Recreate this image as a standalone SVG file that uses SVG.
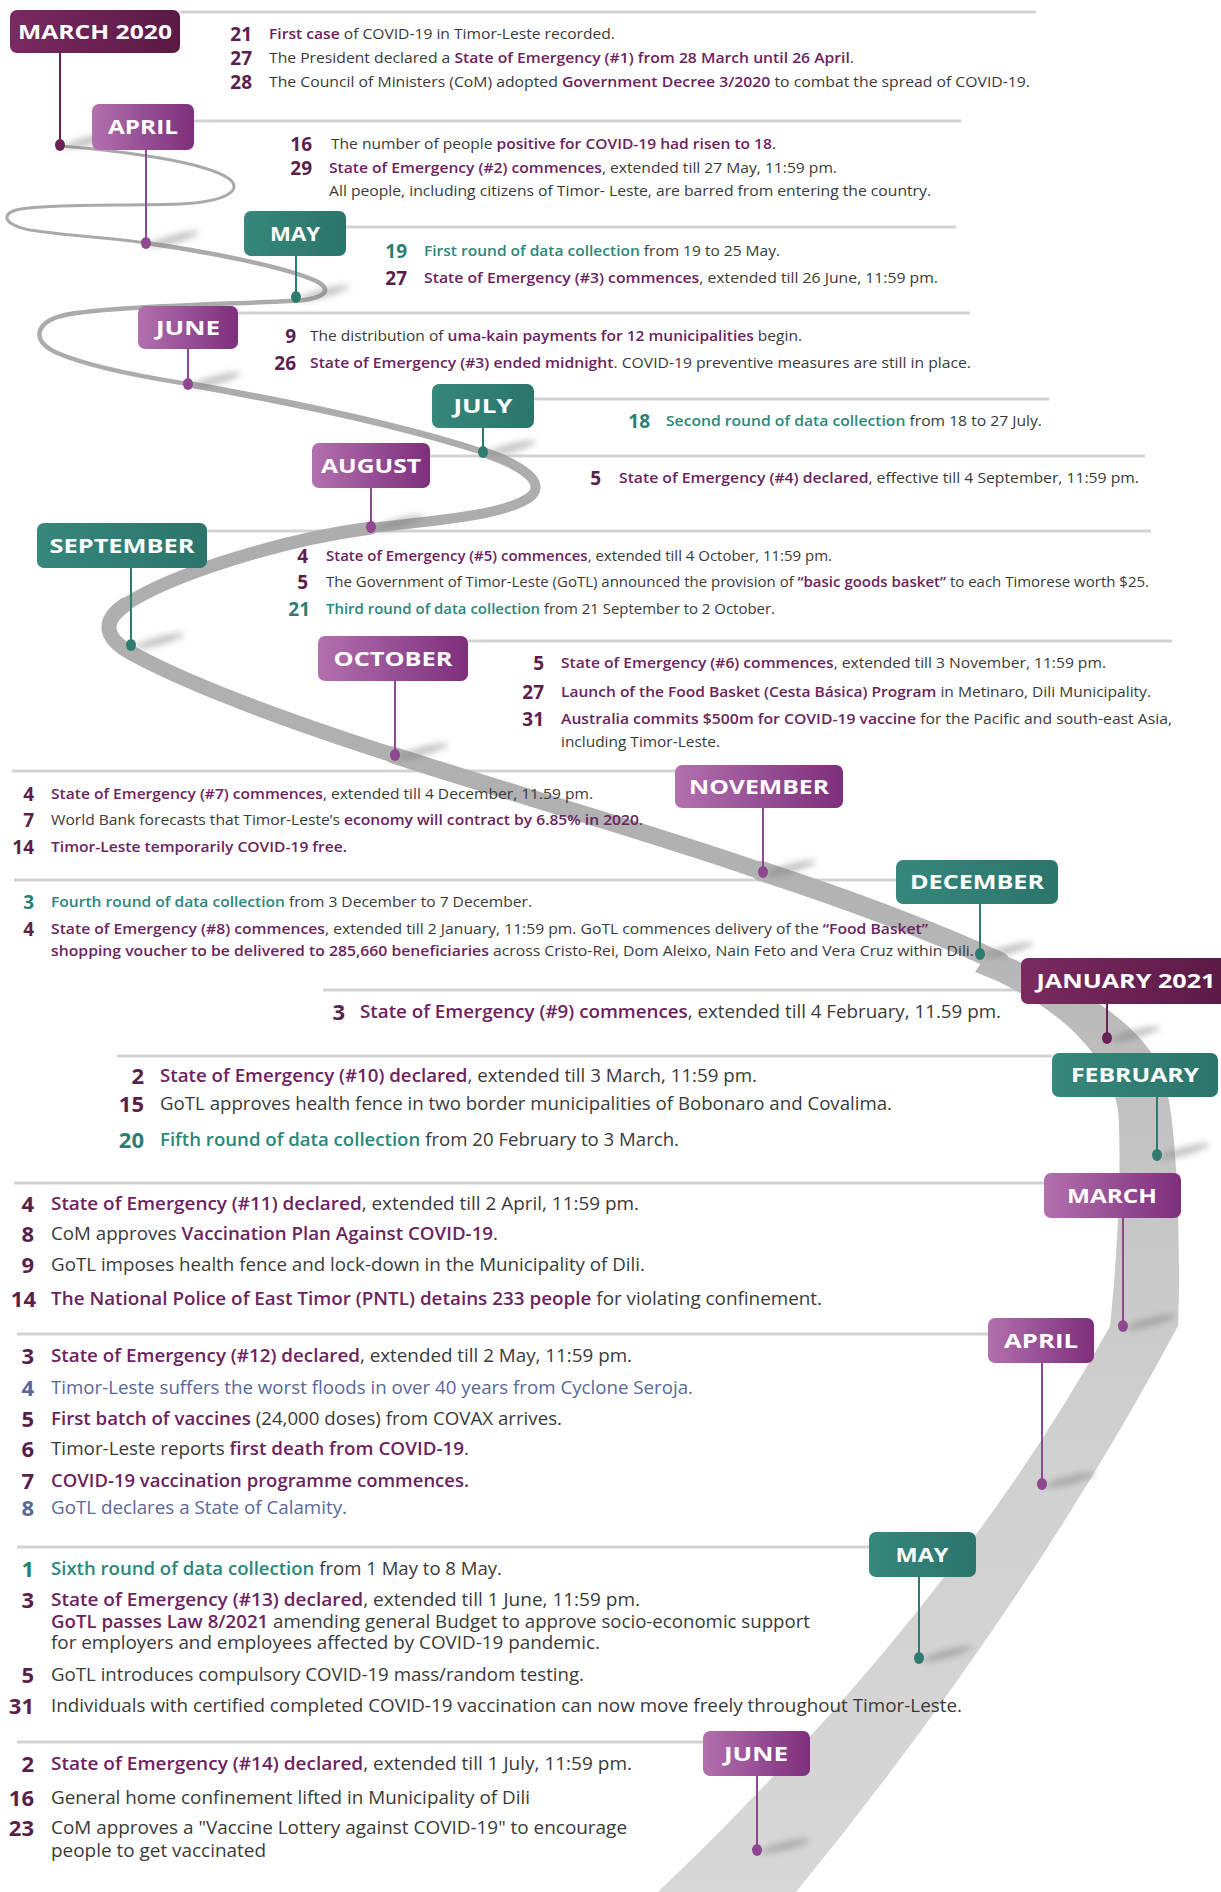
<svg xmlns="http://www.w3.org/2000/svg" width="1221" height="1892" viewBox="0 0 1221 1892">
<defs>
<linearGradient id="gDP" x1="0" y1="0" x2="1" y2="0"><stop offset="0" stop-color="#7a2a60"/><stop offset="1" stop-color="#5a1944"/></linearGradient>
<linearGradient id="gLP" x1="0" y1="0" x2="1" y2="0"><stop offset="0" stop-color="#b270ae"/><stop offset="1" stop-color="#7d2f7b"/></linearGradient>
<linearGradient id="gT" x1="0" y1="0" x2="1" y2="0"><stop offset="0" stop-color="#36877c"/><stop offset="1" stop-color="#2b756b"/></linearGradient>
<linearGradient id="gRoad" gradientUnits="userSpaceOnUse" x1="0" y1="140" x2="0" y2="1892"><stop offset="0" stop-color="#a9a9a9"/><stop offset="0.42" stop-color="#b1b1b1"/><stop offset="0.58" stop-color="#c4c4c4"/><stop offset="0.75" stop-color="#d0d0d0"/><stop offset="1" stop-color="#d7d7d7"/></linearGradient>
<filter id="blur" x="-50%" y="-200%" width="200%" height="500%"><feGaussianBlur stdDeviation="3"/></filter>
</defs>
<style>
.sep{stroke:#d3d3d3;stroke-width:3;fill:none}
.rd{fill:none;stroke:url(#gRoad);stroke-linecap:round;stroke-linejoin:round}
.lbl{font-family:"Open Sans","Liberation Sans",sans-serif;font-weight:700;font-size:20px;fill:#ffffff;text-anchor:middle}
.ev{font-family:"Open Sans","Liberation Sans",sans-serif;fill:#3a3a3a}
.a{font-size:14.5px}
.b{font-size:17.5px}
.num{font-family:"Open Sans","Liberation Sans",sans-serif;font-weight:700;text-anchor:end;fill:#5b1f4d}
.na{font-size:19px}
.nb{font-size:22px}
.nt{fill:#2a7f74}
.nbl{fill:#5a6899}
.p{fill:#6c2461;font-weight:600}
.tl{fill:#2a877c;font-weight:600}
.bl{fill:#5a6899}
.sD{stroke:#6a2155;stroke-width:2}
.sL{stroke:#8f4792;stroke-width:2}
.sT{stroke:#2e7b70;stroke-width:2}
.dD{fill:#6a2155}
.dL{fill:#8f4792}
.dT{fill:#2e7b70}
.sh{fill:#777777;opacity:0.45;filter:url(#blur)}
</style>
<rect width="1221" height="1892" fill="#ffffff"/>

<g id="separators">
<line class="sep" x1="180" y1="12" x2="1036" y2="12"/>
<line class="sep" x1="194" y1="121" x2="961" y2="121"/>
<line class="sep" x1="346" y1="227" x2="956" y2="227"/>
<line class="sep" x1="238" y1="313" x2="970" y2="313"/>
<line class="sep" x1="534" y1="399" x2="1049" y2="399"/>
<line class="sep" x1="430" y1="456" x2="1145" y2="456"/>
<line class="sep" x1="207" y1="531" x2="1151" y2="531"/>
<line class="sep" x1="468" y1="641" x2="1172" y2="641"/>
<line class="sep" x1="12" y1="771" x2="676" y2="771"/>
<line class="sep" x1="14" y1="880" x2="896" y2="880"/>
<line class="sep" x1="323" y1="990" x2="1021" y2="990"/>
<line class="sep" x1="117" y1="1056" x2="1052" y2="1056"/>
<line class="sep" x1="14" y1="1183" x2="1044" y2="1183"/>
<line class="sep" x1="17" y1="1334" x2="988" y2="1334"/>
<line class="sep" x1="17" y1="1547" x2="869" y2="1547"/>
<line class="sep" x1="17" y1="1742" x2="703" y2="1742"/>
</g>

<g id="road">
<path class="rd" stroke-width="3" d="M61,146 C110,150 200,160 228,178 C245,190 225,202 180,204 C120,206 40,204 16,210 C0,215 5,225 30,230 C70,236 110,238 146,243"/>
<path class="rd" stroke-width="4.5" d="M146,243 C210,252 290,268 318,282 C335,292 320,300 290,301 C230,304 120,306 70,314 C35,320 30,340 55,352 C90,368 150,378 188,384"/>
<path class="rd" stroke-width="6.5" d="M188,384 C290,402 400,425 483,452"/>
<path class="rd" stroke-width="10" d="M483,452 C530,468 545,485 530,497 C505,515 440,520 371,528"/>
<path class="rd" stroke-width="13" d="M371,528 C280,540 170,575 125,605"/>
<path class="rd" stroke-width="15" d="M125,605 C100,622 105,640 135,655 C200,690 300,725 393,755"/>
<path class="rd" stroke-width="17" d="M393,755 C500,790 650,832 761,871"/>
<path class="rd" stroke-width="20" d="M761,871 C850,900 930,930 1000,962"/>
<path fill="url(#gRoad)" d="M990,950 C1070,980 1140,1020 1162,1072 C1178,1115 1181,1250 1178,1326 Q1027,1609 796,1892 L658,1892 Q954,1609 1110,1326 C1118,1250 1122,1160 1118,1110 C1108,1050 1050,1000 975,972 Z"/>
</g>

<g id="shadows">
<ellipse class="sh" cx="88" cy="141" rx="26" ry="4" transform="rotate(-15 88 141)"/>
<ellipse class="sh" cx="174" cy="239" rx="26" ry="4" transform="rotate(-15 174 239)"/>
<ellipse class="sh" cx="324" cy="293" rx="26" ry="4" transform="rotate(-15 324 293)"/>
<ellipse class="sh" cx="216" cy="380" rx="26" ry="4" transform="rotate(-15 216 380)"/>
<ellipse class="sh" cx="511" cy="448" rx="26" ry="4" transform="rotate(-15 511 448)"/>
<ellipse class="sh" cx="399" cy="523" rx="26" ry="4" transform="rotate(-15 399 523)"/>
<ellipse class="sh" cx="159" cy="641" rx="26" ry="4" transform="rotate(-15 159 641)"/>
<ellipse class="sh" cx="423" cy="751" rx="26" ry="4" transform="rotate(-15 423 751)"/>
<ellipse class="sh" cx="791" cy="868" rx="26" ry="4" transform="rotate(-15 791 868)"/>
<ellipse class="sh" cx="1008" cy="950" rx="26" ry="4" transform="rotate(-15 1008 950)"/>
<ellipse class="sh" cx="1135" cy="1034" rx="26" ry="4" transform="rotate(-15 1135 1034)"/>
<ellipse class="sh" cx="1185" cy="1151" rx="26" ry="4" transform="rotate(-15 1185 1151)"/>
<ellipse class="sh" cx="1151" cy="1322" rx="26" ry="4" transform="rotate(-15 1151 1322)"/>
<ellipse class="sh" cx="1070" cy="1480" rx="26" ry="4" transform="rotate(-15 1070 1480)"/>
<ellipse class="sh" cx="947" cy="1654" rx="26" ry="4" transform="rotate(-15 947 1654)"/>
<ellipse class="sh" cx="785" cy="1846" rx="26" ry="4" transform="rotate(-15 785 1846)"/>
</g>

<g id="node-march-2020">
<line class="sD" x1="60" y1="53" x2="60" y2="145"/><ellipse class="dD" cx="60" cy="145" rx="5" ry="6"/>
<rect x="10" y="10" width="170" height="43" rx="7" fill="url(#gDP)"/>
<text class="lbl" x="95" y="39" textLength="154" lengthAdjust="spacingAndGlyphs">MARCH 2020</text>
<text class="num na" x="252" y="41">21</text>
<text class="ev a" x="269" y="39" textLength="346" lengthAdjust="spacingAndGlyphs"><tspan class="p">First case</tspan> of COVID-19 in Timor-Leste recorded.</text>
<text class="num na" x="252" y="65">27</text>
<text class="ev a" x="269" y="63" textLength="585" lengthAdjust="spacingAndGlyphs">The President declared a <tspan class="p">State of Emergency (#1) from 28 March until 26 April</tspan>.</text>
<text class="num na" x="252" y="89">28</text>
<text class="ev a" x="269" y="87" textLength="761" lengthAdjust="spacingAndGlyphs">The Council of Ministers (CoM) adopted <tspan class="p">Government Decree 3/2020</tspan> to combat the spread of COVID-19.</text>
</g>

<g id="node-april-2020">
<line class="sL" x1="146" y1="150" x2="146" y2="243"/><ellipse class="dL" cx="146" cy="243" rx="5" ry="6"/>
<rect x="92" y="104" width="102" height="46" rx="7" fill="url(#gLP)"/>
<text class="lbl" x="143" y="134" textLength="70" lengthAdjust="spacingAndGlyphs">APRIL</text>
<text class="num na" x="312" y="151">16</text>
<text class="ev a" x="331" y="149" textLength="445" lengthAdjust="spacingAndGlyphs">The number of people <tspan class="p">positive for COVID-19 had risen to 18</tspan>.</text>
<text class="num na" x="312" y="175">29</text>
<text class="ev a" x="329" y="173" textLength="508" lengthAdjust="spacingAndGlyphs"><tspan class="p">State of Emergency (#2) commences</tspan>, extended till 27 May, 11:59 pm.</text>
<text class="ev a" x="329" y="196" textLength="602" lengthAdjust="spacingAndGlyphs">All people, including citizens of Timor- Leste, are barred from entering the country.</text>
</g>

<g id="node-may-2020">
<line class="sT" x1="296" y1="256" x2="296" y2="297"/><ellipse class="dT" cx="296" cy="297" rx="5" ry="6"/>
<rect x="244" y="211" width="102" height="45" rx="7" fill="url(#gT)"/>
<text class="lbl" x="295" y="241" textLength="50" lengthAdjust="spacingAndGlyphs">MAY</text>
<text class="num na nt" x="407" y="258">19</text>
<text class="ev a" x="424" y="256" textLength="356" lengthAdjust="spacingAndGlyphs"><tspan class="tl">First round of data collection</tspan> from 19 to 25 May.</text>
<text class="num na" x="407" y="285">27</text>
<text class="ev a" x="424" y="283" textLength="514" lengthAdjust="spacingAndGlyphs"><tspan class="p">State of Emergency (#3) commences</tspan>, extended till 26 June, 11:59 pm.</text>
</g>

<g id="node-june-2020">
<line class="sL" x1="188" y1="349" x2="188" y2="384"/><ellipse class="dL" cx="188" cy="384" rx="5" ry="6"/>
<rect x="138" y="306" width="100" height="43" rx="7" fill="url(#gLP)"/>
<text class="lbl" x="188" y="335" textLength="64" lengthAdjust="spacingAndGlyphs">JUNE</text>
<text class="num na" x="296" y="343">9</text>
<text class="ev a" x="310" y="341" textLength="492" lengthAdjust="spacingAndGlyphs">The distribution of <tspan class="p">uma-kain payments for 12 municipalities</tspan> begin.</text>
<text class="num na" x="296" y="370">26</text>
<text class="ev a" x="310" y="368" textLength="661" lengthAdjust="spacingAndGlyphs"><tspan class="p">State of Emergency (#3) ended midnight</tspan>. COVID-19 preventive measures are still in place.</text>
</g>

<g id="node-july-2020">
<line class="sT" x1="483" y1="428" x2="483" y2="452"/><ellipse class="dT" cx="483" cy="452" rx="5" ry="6"/>
<rect x="432" y="384" width="102" height="44" rx="7" fill="url(#gT)"/>
<text class="lbl" x="483" y="413" textLength="59" lengthAdjust="spacingAndGlyphs">JULY</text>
<text class="num na nt" x="650" y="428">18</text>
<text class="ev a" x="666" y="426" textLength="376" lengthAdjust="spacingAndGlyphs"><tspan class="tl">Second round of data collection</tspan> from 18 to 27 July.</text>
</g>

<g id="node-august-2020">
<line class="sL" x1="371" y1="488" x2="371" y2="527"/><ellipse class="dL" cx="371" cy="527" rx="5" ry="6"/>
<rect x="312" y="443" width="118" height="45" rx="7" fill="url(#gLP)"/>
<text class="lbl" x="371" y="473" textLength="100" lengthAdjust="spacingAndGlyphs">AUGUST</text>
<text class="num na" x="601" y="485">5</text>
<text class="ev a" x="619" y="483" textLength="520" lengthAdjust="spacingAndGlyphs"><tspan class="p">State of Emergency (#4) declared</tspan>, effective till 4 September, 11:59 pm.</text>
</g>

<g id="node-september-2020">
<line class="sT" x1="131" y1="568" x2="131" y2="645"/><ellipse class="dT" cx="131" cy="645" rx="5" ry="6"/>
<rect x="37" y="523" width="170" height="45" rx="7" fill="url(#gT)"/>
<text class="lbl" x="122" y="553" textLength="145" lengthAdjust="spacingAndGlyphs">SEPTEMBER</text>
<text class="num na" x="308" y="563">4</text>
<text class="ev a" x="326" y="561" textLength="506" lengthAdjust="spacingAndGlyphs"><tspan class="p">State of Emergency (#5) commences</tspan>, extended till 4 October, 11:59 pm.</text>
<text class="num na" x="308" y="589">5</text>
<text class="ev a" x="326" y="587" textLength="823" lengthAdjust="spacingAndGlyphs">The Government of Timor-Leste (GoTL) announced the provision of <tspan class="p">“basic goods basket”</tspan> to each Timorese worth $25.</text>
<text class="num na nt" x="310" y="616">21</text>
<text class="ev a" x="326" y="614" textLength="449" lengthAdjust="spacingAndGlyphs"><tspan class="tl">Third round of data collection</tspan> from 21 September to 2 October.</text>
</g>

<g id="node-october-2020">
<line class="sL" x1="395" y1="681" x2="395" y2="755"/><ellipse class="dL" cx="395" cy="755" rx="5" ry="6"/>
<rect x="318" y="636" width="150" height="45" rx="7" fill="url(#gLP)"/>
<text class="lbl" x="393" y="666" textLength="119" lengthAdjust="spacingAndGlyphs">OCTOBER</text>
<text class="num na" x="544" y="670">5</text>
<text class="ev a" x="561" y="668" textLength="545" lengthAdjust="spacingAndGlyphs"><tspan class="p">State of Emergency (#6) commences</tspan>, extended till 3 November, 11:59 pm.</text>
<text class="num na" x="544" y="699">27</text>
<text class="ev a" x="561" y="697" textLength="590" lengthAdjust="spacingAndGlyphs"><tspan class="p">Launch of the Food Basket (Cesta Básica) Program</tspan> in Metinaro, Dili Municipality.</text>
<text class="num na" x="544" y="726">31</text>
<text class="ev a" x="561" y="724" textLength="611" lengthAdjust="spacingAndGlyphs"><tspan class="p">Australia commits $500m for COVID-19 vaccine</tspan> for the Pacific and south-east Asia,</text>
<text class="ev a" x="561" y="747" textLength="159" lengthAdjust="spacingAndGlyphs">including Timor-Leste.</text>
</g>

<g id="node-november-2020">
<line class="sL" x1="763" y1="808" x2="763" y2="872"/><ellipse class="dL" cx="763" cy="872" rx="5" ry="6"/>
<rect x="675" y="765" width="168" height="43" rx="7" fill="url(#gLP)"/>
<text class="lbl" x="759" y="794" textLength="140" lengthAdjust="spacingAndGlyphs">NOVEMBER</text>
<text class="num na" x="34" y="801">4</text>
<text class="ev a" x="51" y="799" textLength="542" lengthAdjust="spacingAndGlyphs"><tspan class="p">State of Emergency (#7) commences</tspan>, extended till 4 December, 11.59 pm.</text>
<text class="num na" x="34" y="827">7</text>
<text class="ev a" x="51" y="825" textLength="592" lengthAdjust="spacingAndGlyphs">World Bank forecasts that Timor-Leste’s <tspan class="p">economy will contract by 6.85% in 2020</tspan>.</text>
<text class="num na" x="34" y="854">14</text>
<text class="ev a" x="51" y="852" textLength="296" lengthAdjust="spacingAndGlyphs"><tspan class="p">Timor-Leste temporarily COVID-19 free.</tspan></text>
</g>

<g id="node-december-2020">
<line class="sT" x1="980" y1="904" x2="980" y2="954"/><ellipse class="dT" cx="980" cy="954" rx="5" ry="6"/>
<rect x="896" y="860" width="162" height="44" rx="7" fill="url(#gT)"/>
<text class="lbl" x="977" y="889" textLength="134" lengthAdjust="spacingAndGlyphs">DECEMBER</text>
<text class="num na nt" x="34" y="909">3</text>
<text class="ev a" x="51" y="907" textLength="481" lengthAdjust="spacingAndGlyphs"><tspan class="tl">Fourth round of data collection</tspan> from 3 December to 7 December.</text>
<text class="num na" x="34" y="936">4</text>
<text class="ev a" x="51" y="934" textLength="877" lengthAdjust="spacingAndGlyphs"><tspan class="p">State of Emergency (#8) commences</tspan>, extended till 2 January, 11:59 pm. GoTL commences delivery of the <tspan class="p">“Food Basket”</tspan></text>
<text class="ev a" x="51" y="956" textLength="923" lengthAdjust="spacingAndGlyphs"><tspan class="p">shopping voucher to be delivered to 285,660 beneficiaries</tspan> across Cristo-Rei, Dom Aleixo, Nain Feto and Vera Cruz within Dili.</text>
</g>

<g id="node-january-2021">
<line class="sD" x1="1107" y1="1004" x2="1107" y2="1038"/><ellipse class="dD" cx="1107" cy="1038" rx="5" ry="6"/>
<rect x="1021" y="958" width="215" height="46" rx="7" fill="url(#gDP)"/>
<text class="lbl" x="1126" y="988" textLength="179" lengthAdjust="spacingAndGlyphs">JANUARY 2021</text>
<text class="num nb" x="345" y="1020">3</text>
<text class="ev" font-size="18" x="360" y="1018" textLength="641" lengthAdjust="spacingAndGlyphs"><tspan class="p">State of Emergency (#9) commences</tspan>, extended till 4 February, 11.59 pm.</text>
</g>

<g id="node-february-2021">
<line class="sT" x1="1157" y1="1097" x2="1157" y2="1155"/><ellipse class="dT" cx="1157" cy="1155" rx="5" ry="6"/>
<rect x="1052" y="1053" width="166" height="44" rx="7" fill="url(#gT)"/>
<text class="lbl" x="1135" y="1082" textLength="128" lengthAdjust="spacingAndGlyphs">FEBRUARY</text>
<text class="num nb" x="144" y="1084">2</text>
<text class="ev b" x="160" y="1082" textLength="597" lengthAdjust="spacingAndGlyphs"><tspan class="p">State of Emergency (#10) declared</tspan>, extended till 3 March, 11:59 pm.</text>
<text class="num nb" x="144" y="1112">15</text>
<text class="ev b" x="160" y="1110" textLength="732" lengthAdjust="spacingAndGlyphs">GoTL approves health fence in two border municipalities of Bobonaro and Covalima.</text>
<text class="num nb nt" x="144" y="1148">20</text>
<text class="ev b" x="160" y="1146" textLength="519" lengthAdjust="spacingAndGlyphs"><tspan class="tl">Fifth round of data collection</tspan> from 20 February to 3 March.</text>
</g>

<g id="node-march-2021">
<line class="sL" x1="1123" y1="1218" x2="1123" y2="1326"/><ellipse class="dL" cx="1123" cy="1326" rx="5" ry="6"/>
<rect x="1044" y="1173" width="137" height="45" rx="7" fill="url(#gLP)"/>
<text class="lbl" x="1112" y="1203" textLength="90" lengthAdjust="spacingAndGlyphs">MARCH</text>
<text class="num nb" x="34" y="1212">4</text>
<text class="ev b" x="51" y="1210" textLength="588" lengthAdjust="spacingAndGlyphs"><tspan class="p">State of Emergency (#11) declared</tspan>, extended till 2 April, 11:59 pm.</text>
<text class="num nb" x="34" y="1242">8</text>
<text class="ev b" x="51" y="1240" textLength="447" lengthAdjust="spacingAndGlyphs">CoM approves <tspan class="p">Vaccination Plan Against COVID-19</tspan>.</text>
<text class="num nb" x="34" y="1273">9</text>
<text class="ev b" x="51" y="1271" textLength="594" lengthAdjust="spacingAndGlyphs">GoTL imposes health fence and lock-down in the Municipality of Dili.</text>
<text class="num nb" x="36" y="1307">14</text>
<text class="ev b" x="51" y="1305" textLength="771" lengthAdjust="spacingAndGlyphs"><tspan class="p">The National Police of East Timor (PNTL) detains 233 people</tspan> for violating confinement.</text>
</g>

<g id="node-april-2021">
<line class="sL" x1="1042" y1="1363" x2="1042" y2="1484"/><ellipse class="dL" cx="1042" cy="1484" rx="5" ry="6"/>
<rect x="988" y="1318" width="106" height="45" rx="7" fill="url(#gLP)"/>
<text class="lbl" x="1041" y="1348" textLength="74" lengthAdjust="spacingAndGlyphs">APRIL</text>
<text class="num nb" x="34" y="1364">3</text>
<text class="ev b" x="51" y="1362" textLength="581" lengthAdjust="spacingAndGlyphs"><tspan class="p">State of Emergency (#12) declared</tspan>, extended till 2 May, 11:59 pm.</text>
<text class="num nb nbl" x="34" y="1396">4</text>
<text class="ev b" x="51" y="1394" textLength="642" lengthAdjust="spacingAndGlyphs"><tspan class="bl">Timor-Leste suffers the worst floods in over 40 years from Cyclone Seroja.</tspan></text>
<text class="num nb" x="34" y="1427">5</text>
<text class="ev b" x="51" y="1425" textLength="511" lengthAdjust="spacingAndGlyphs"><tspan class="p">First batch of vaccines</tspan> (24,000 doses) from COVAX arrives.</text>
<text class="num nb" x="34" y="1457">6</text>
<text class="ev b" x="51" y="1455" textLength="418" lengthAdjust="spacingAndGlyphs">Timor-Leste reports <tspan class="p">first death from COVID-19</tspan>.</text>
<text class="num nb" x="34" y="1489">7</text>
<text class="ev b" x="51" y="1487" textLength="418" lengthAdjust="spacingAndGlyphs"><tspan class="p">COVID-19 vaccination programme commences.</tspan></text>
<text class="num nb nbl" x="34" y="1516">8</text>
<text class="ev b" x="51" y="1514" textLength="296" lengthAdjust="spacingAndGlyphs"><tspan class="bl">GoTL declares a State of Calamity.</tspan></text>
</g>

<g id="node-may-2021">
<line class="sT" x1="919" y1="1577" x2="919" y2="1658"/><ellipse class="dT" cx="919" cy="1658" rx="5" ry="6"/>
<rect x="869" y="1532" width="107" height="45" rx="7" fill="url(#gT)"/>
<text class="lbl" x="922" y="1562" textLength="53" lengthAdjust="spacingAndGlyphs">MAY</text>
<text class="num nb nt" x="34" y="1577">1</text>
<text class="ev b" x="51" y="1575" textLength="451" lengthAdjust="spacingAndGlyphs"><tspan class="tl">Sixth round of data collection</tspan> from 1 May to 8 May.</text>
<text class="num nb" x="34" y="1608">3</text>
<text class="ev b" x="51" y="1606" textLength="589" lengthAdjust="spacingAndGlyphs"><tspan class="p">State of Emergency (#13) declared</tspan>, extended till 1 June, 11:59 pm.</text>
<text class="ev b" x="51" y="1628" textLength="759" lengthAdjust="spacingAndGlyphs"><tspan class="p">GoTL passes Law 8/2021</tspan> amending general Budget to approve socio-economic support</text>
<text class="ev b" x="51" y="1649" textLength="549" lengthAdjust="spacingAndGlyphs">for employers and employees affected by COVID-19 pandemic.</text>
<text class="num nb" x="34" y="1683">5</text>
<text class="ev b" x="51" y="1681" textLength="533" lengthAdjust="spacingAndGlyphs">GoTL introduces compulsory COVID-19 mass/random testing.</text>
<text class="num nb" x="34" y="1714">31</text>
<text class="ev b" x="51" y="1712" textLength="911" lengthAdjust="spacingAndGlyphs">Individuals with certified completed COVID-19 vaccination can now move freely throughout Timor-Leste.</text>
</g>

<g id="node-june-2021">
<line class="sL" x1="757" y1="1776" x2="757" y2="1850"/><ellipse class="dL" cx="757" cy="1850" rx="5" ry="6"/>
<rect x="703" y="1731" width="107" height="45" rx="7" fill="url(#gLP)"/>
<text class="lbl" x="756" y="1761" textLength="64" lengthAdjust="spacingAndGlyphs">JUNE</text>
<text class="num nb" x="34" y="1772">2</text>
<text class="ev b" x="51" y="1770" textLength="581" lengthAdjust="spacingAndGlyphs"><tspan class="p">State of Emergency (#14) declared</tspan>, extended till 1 July, 11:59 pm.</text>
<text class="num nb" x="34" y="1806">16</text>
<text class="ev b" x="51" y="1804" textLength="479" lengthAdjust="spacingAndGlyphs">General home confinement lifted in Municipality of Dili</text>
<text class="num nb" x="34" y="1836">23</text>
<text class="ev b" x="51" y="1834" textLength="576" lengthAdjust="spacingAndGlyphs">CoM approves a "Vaccine Lottery against COVID-19" to encourage</text>
<text class="ev b" x="51" y="1857" textLength="215" lengthAdjust="spacingAndGlyphs">people to get vaccinated</text>
</g>
</svg>
